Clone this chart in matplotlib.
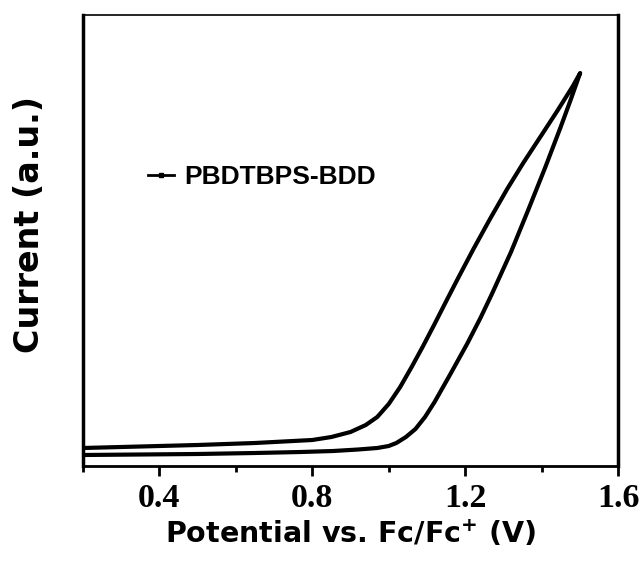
import matplotlib
matplotlib.use("Agg")
import matplotlib.pyplot as plt
from matplotlib.lines import Line2D
from matplotlib.ticker import FixedLocator

# Forward (oxidation) scan
forward_v = [0.20, 0.35, 0.50, 0.65, 0.77, 0.855, 0.92, 0.97, 1.00, 1.02, 1.045, 1.07,
             1.095, 1.12, 1.16, 1.205, 1.24, 1.27, 1.32, 1.365, 1.41, 1.45, 1.475, 1.501]
forward_i = [0.11, 0.115, 0.12, 0.13, 0.14, 0.15, 0.165, 0.18, 0.20, 0.23, 0.29, 0.37,
             0.49, 0.64, 0.91, 1.22, 1.48, 1.72, 2.14, 2.56, 2.99, 3.39, 3.65, 3.93]
# Reverse scan
reverse_v = [1.501, 1.482, 1.441, 1.40, 1.352, 1.31, 1.265, 1.221, 1.179, 1.15, 1.12,
             1.09, 1.06, 1.03, 1.00, 0.97, 0.94, 0.90, 0.85, 0.80, 0.65, 0.50, 0.35, 0.20]
reverse_i = [3.93, 3.80, 3.55, 3.31, 3.03, 2.77, 2.47, 2.165, 1.86, 1.645, 1.42,
             1.20, 0.99, 0.79, 0.62, 0.49, 0.41, 0.34, 0.29, 0.26, 0.23, 0.21, 0.195, 0.18]

series_label = "PBDTBPS-BDD"
major_ticks = [0.4, 0.8, 1.2, 1.6]
minor_ticks = [0.2, 0.6, 1.0, 1.4]
tick_labels = ["0.4", "0.8", "1.2", "1.6"]

fig = plt.figure(figsize=(6.44, 5.62), dpi=100)
ax = fig.add_axes([83/644, 1-466/562, (618-83)/644, (466-15)/562])

v = forward_v + reverse_v
i = forward_i + reverse_i
ax.plot(v, i, color="black", lw=3.0, solid_joinstyle="round", solid_capstyle="round")

ax.set_xlim(0.2, 1.6)
ax.set_ylim(0, 4.51)
ax.xaxis.set_major_locator(FixedLocator(major_ticks))
ax.xaxis.set_minor_locator(FixedLocator(minor_ticks))
ax.set_xticklabels(tick_labels, fontfamily="Liberation Serif", fontweight="bold", fontsize=24.5)
ax.tick_params(axis="x", which="major", direction="out", length=7, width=2, pad=5, top=False)
ax.tick_params(axis="x", which="minor", direction="out", length=4, width=2, top=False)
ax.set_yticks([])

for side, w in [("left", 2.5), ("right", 2.5), ("bottom", 2.0), ("top", 1.2)]:
    ax.spines[side].set_linewidth(w)

ax.set_xlabel("Potential vs. Fc/Fc$^{\\mathbf{+}}$ (V)", fontfamily="DejaVu Sans",
              fontweight="bold", fontsize=20.5, labelpad=3)
ax.set_ylabel("Current (a.u.)", fontfamily="DejaVu Sans", fontweight="bold", fontsize=24)
ax.yaxis.set_label_coords(-0.07, 0.535)

proxy = Line2D([], [], color="black", lw=2, marker="s", markersize=3)
ax.legend([proxy], [series_label], loc="center left", bbox_to_anchor=(0.121, 0.641),
          frameon=False, borderpad=0, borderaxespad=0, handlelength=1.0,
          handletextpad=0.4, prop={"family": "Liberation Sans", "weight": "bold", "size": 19})

fig.savefig("out.png", dpi=100)
